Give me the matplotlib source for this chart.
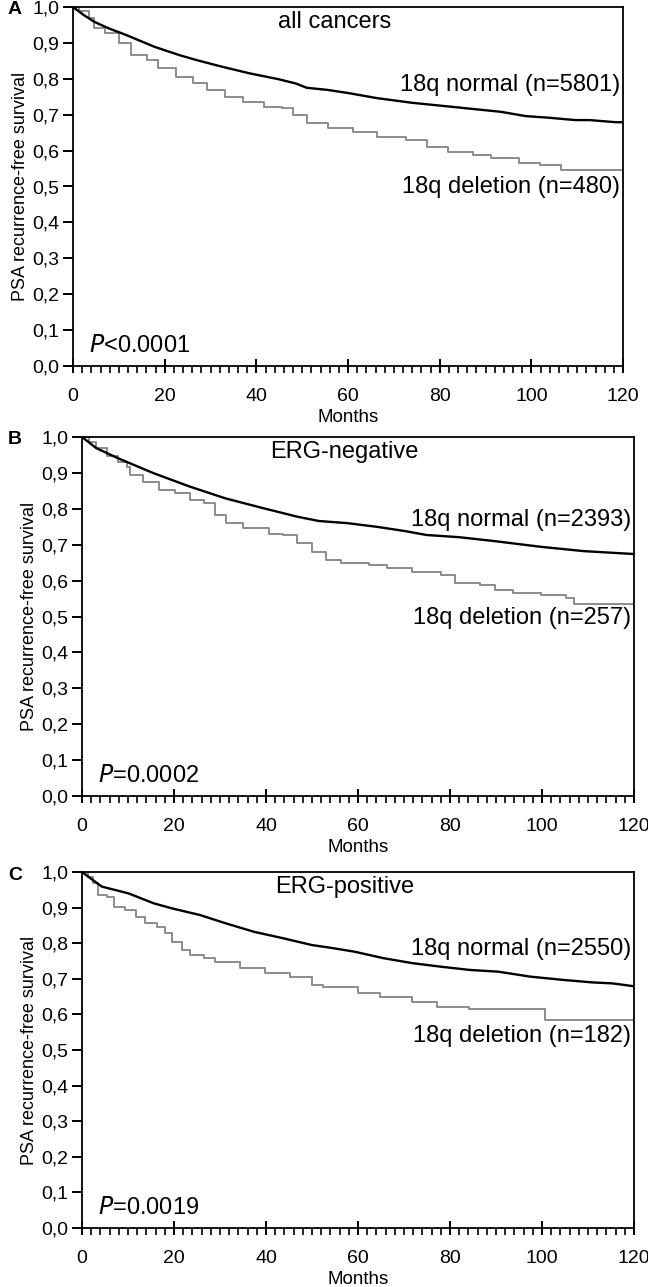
import matplotlib
matplotlib.use("Agg")
import matplotlib.pyplot as plt
from matplotlib.ticker import MultipleLocator, FuncFormatter

# 字体：刻度用 Liberation Sans（没有窄体可用）
REGULAR = ["Liberation Sans", "DejaVu Sans"]
plt.rcParams["font.family"] = REGULAR

# ---------------- 数据（从图上读出的 Kaplan-Meier 曲线） ----------------
# A: all cancers
a_norm_m = [0, 2.3, 4.6, 7.7, 11.6, 17.8, 23.2, 27, 32.4, 38.6, 44.8, 48.6, 51, 55.6, 60.2, 66.4, 74.1, 81.1, 87.2,
            93.4, 98.8, 103.4, 109.6, 112.7, 118.5, 120]
a_norm_s = [1.0, 0.978, 0.959, 0.941, 0.922, 0.889, 0.866, 0.852, 0.834, 0.815, 0.799, 0.787, 0.775, 0.769, 0.760, 0.746, 0.733, 0.724, 0.716,
            0.708, 0.696, 0.692, 0.685, 0.685, 0.679, 0.679]
a_del_m = [0, 1.2, 3.5, 4.6, 6.9, 10, 12.7, 16.2, 18.5, 22.4, 26.2, 29.3, 33.2, 37.1, 41.7, 45.5, 47.9, 51, 55.6, 61,
           66.4, 72.6, 77.2, 81.8, 87.2, 91.1, 97.3, 101.9, 106.5, 120]
a_del_s = [1.0, 0.99, 0.969, 0.941, 0.927, 0.899, 0.866, 0.852, 0.829, 0.806, 0.787, 0.769, 0.750, 0.736, 0.722, 0.718, 0.699, 0.676, 0.662, 0.653,
           0.639, 0.630, 0.611, 0.597, 0.588, 0.579, 0.565, 0.560, 0.545, 0.545]

# B: ERG-negative
b_norm_m = [0, 3.1, 7.8, 15.6, 23.4, 31.2, 39, 46.8, 51.5, 57.7, 64, 70.2, 74.9, 81.9, 89.7, 99.8, 109.2, 120]
b_norm_s = [1.0, 0.969, 0.941, 0.899, 0.862, 0.829, 0.803, 0.778, 0.766, 0.760, 0.750, 0.738, 0.727, 0.721, 0.710, 0.694, 0.682, 0.674]
b_del_m = [0, 1.5, 3.1, 5.5, 7.8, 9.8, 10.5, 13.3, 16.8, 20.3, 23.4, 26.5, 28.9, 31.2, 35.1, 40.6, 43.7, 46.8, 49.9, 53,
           56.2, 62.4, 66.3, 71.8, 78, 81.1, 86.6, 89.7, 93.6, 99.8, 105.3, 106.9, 120]
b_del_s = [1.0, 0.985, 0.969, 0.948, 0.931, 0.917, 0.894, 0.876, 0.852, 0.843, 0.825, 0.815, 0.783, 0.760, 0.746, 0.729, 0.727, 0.704, 0.680, 0.657,
           0.648, 0.643, 0.634, 0.625, 0.616, 0.592, 0.588, 0.574, 0.565, 0.560, 0.551, 0.535, 0.535]

# C: ERG-positive
c_norm_m = [0, 2.3, 4.3, 10.1, 15.6, 19.5, 25.7, 31.2, 37.4, 43.7, 49.9, 54.6, 59.3, 65.5, 71.8, 78, 84.2, 90.5, 97.5,
            104.5, 110.8, 115.4, 120]
c_norm_s = [1.0, 0.978, 0.959, 0.940, 0.912, 0.898, 0.879, 0.856, 0.832, 0.814, 0.795, 0.786, 0.776, 0.758, 0.744, 0.734, 0.725, 0.720, 0.706,
            0.697, 0.690, 0.687, 0.679]
c_del_m = [0, 1.2, 2.3, 3.5, 5.5, 7, 9.4, 11.7, 13.7, 16.4, 18, 19.5, 21.8, 23.4, 26.5, 28.9, 34.3, 39.8, 45.2, 49.9,
           52.3, 60, 64.7, 71.8, 77.2, 84.2, 99.8, 100.6, 120]
c_del_s = [1.0, 0.985, 0.968, 0.935, 0.931, 0.903, 0.893, 0.874, 0.856, 0.846, 0.828, 0.804, 0.781, 0.767, 0.758, 0.748, 0.729, 0.715, 0.704, 0.683,
           0.678, 0.659, 0.650, 0.636, 0.622, 0.614, 0.614, 0.584, 0.584]

titles = ["all cancers", "ERG-negative", "ERG-positive"]
letters = ["A", "B", "C"]
norm_labels = ["18q normal (n=5801)", "18q normal (n=2393)", "18q normal (n=2550)"]
del_labels = ["18q deletion (n=480)", "18q deletion (n=257)", "18q deletion (n=182)"]
p_values = ["<0.0001", "=0.0002", "=0.0019"]

# ---------------- 画图 ----------------
W, H = 648, 1287
fig = plt.figure(figsize=(W / 100, H / 100), dpi=100)

# 各子图的像素框 (left, top, right, bottom)
boxes = [(73, 7, 623, 366), (82, 437, 634, 796), (82, 872, 634, 1228)]
norm_text_y = [0.782, 0.768, 0.783]
del_text_y = [0.500, 0.495, 0.540]

panels = [
    (a_norm_m, a_norm_s, a_del_m, a_del_s),
    (b_norm_m, b_norm_s, b_del_m, b_del_s),
    (c_norm_m, c_norm_s, c_del_m, c_del_s),
]

for i, (nm, ns, dm, ds) in enumerate(panels):
    l, t, r, b = boxes[i]
    ax = fig.add_axes([l / W, 1 - b / H, (r - l) / W, (b - t) / H])

    ax.plot(dm, ds, color="#8c8c8c", lw=1.4, drawstyle="steps-post", zorder=2)
    ax.plot(nm, ns, color="black", lw=1.7, zorder=3)

    ax.set_xlim(0, 120)
    ax.set_ylim(0, 1.0)
    ax.xaxis.set_major_locator(MultipleLocator(20))
    ax.xaxis.set_minor_locator(MultipleLocator(2))
    ax.yaxis.set_major_locator(MultipleLocator(0.1))
    ax.yaxis.set_major_formatter(FuncFormatter(lambda v, p: "{:.1f}".format(v).replace(".", ",")))

    ax.tick_params(axis="x", which="major", direction="inout", length=10, width=1.4,
                   labelsize=14, pad=11)
    ax.tick_params(axis="x", which="minor", direction="out", length=5, width=1.2)
    ax.tick_params(axis="y", which="major", direction="out", length=7, width=1.4,
                   labelsize=14, pad=3)
    for s in ax.spines.values():
        s.set_linewidth(1.3)

    ax.set_xlabel("Months", fontsize=13.5, labelpad=3)
    ax.set_ylabel("PSA recurrence-free survival", fontsize=13, labelpad=2)

    ax.text(57, 0.958, titles[i], ha="center", va="center", fontsize=17)
    ax.text(119.3, norm_text_y[i], norm_labels[i], ha="right", va="center", fontsize=17)
    ax.text(119.3, del_text_y[i], del_labels[i], ha="right", va="center", fontsize=17)
    ax.text(3.5, 0.056, "$P$" + p_values[i], ha="left", va="center", fontsize=17)

    fig.text(8 / W, 1 - (t + 3) / H, letters[i], ha="left", va="center",
             fontsize=14, fontweight="bold")

fig.savefig("out.png", dpi=100)
